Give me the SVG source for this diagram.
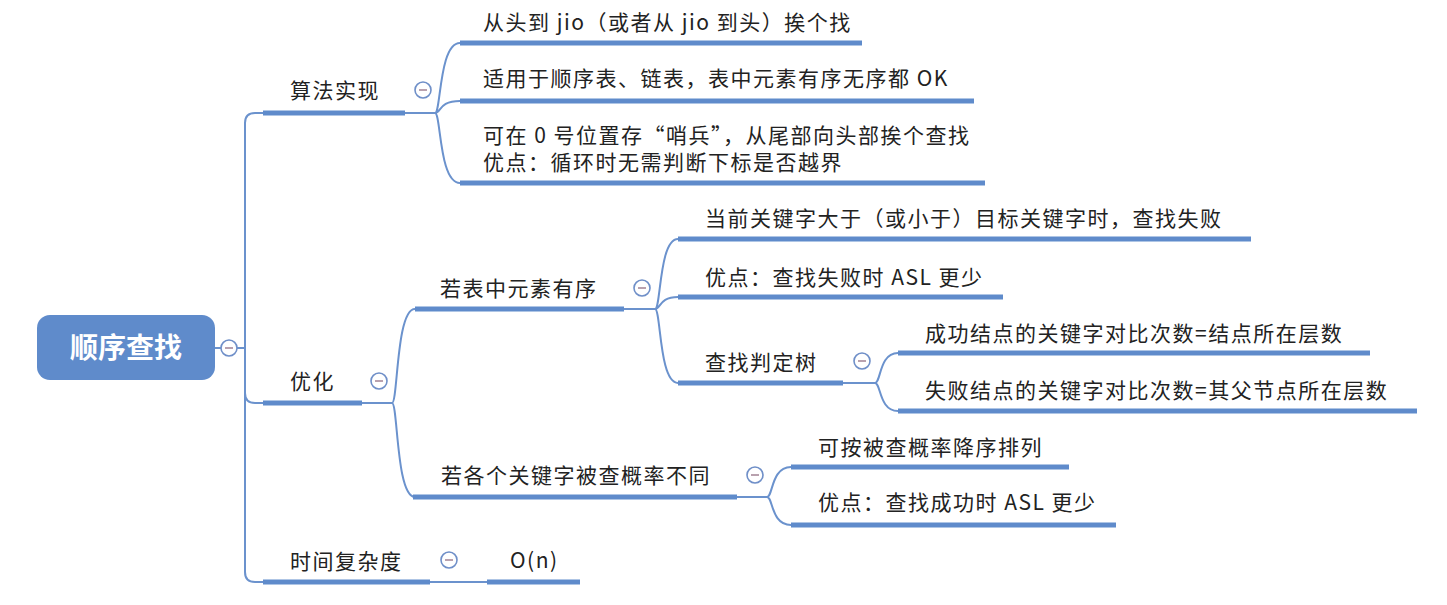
<svg xmlns="http://www.w3.org/2000/svg" width="1447" height="605" viewBox="0 0 1447 605">
<style>
text{font-family:"Noto Sans CJK SC","Noto Sans",sans-serif;font-size:21px;fill:#222;letter-spacing:1.5px}
.root{font-size:28px;font-weight:bold;fill:#fff;letter-spacing:0}
.ul{stroke:#5f8bcb;stroke-width:5;fill:none}
.cn{stroke:#6b92cd;stroke-width:2;fill:none}
.tg circle{fill:#fff;stroke:#6f8fc8;stroke-width:1.6}
.tg line{stroke:#a88a9a;stroke-width:1.6}
</style>
<rect width="1447" height="605" fill="#fff"/>
<g id="connectors">
<path class="cn" d="M215 348 H221 M237 348 H245 M245 348 V123 Q245 113 255 113 H265 M245 348 V572 Q245 582 255 582 H265 M245 393 Q245 403 255 403 H265"/>
<path class="cn" d="M405 113 H435 M435 113 C441 113 439 43 460 43 M435 113 C441 113 439 101 460 101 M435 113 C441 113 439 183 460 183"/>
<path class="cn" d="M362 403 H392 M392 403 C398 403 396 309 415 309 M392 403 C398 403 396 497 415 497"/>
<path class="cn" d="M624 309 H655 M655 309 C661 309 659 239 678 239 M655 309 C661 309 659 297 678 297 M655 309 C661 309 659 383 678 383"/>
<path class="cn" d="M843 383 H875 M875 383 C881 383 879 353 898 353 M875 383 C881 383 879 411 898 411"/>
<path class="cn" d="M737 497 H767 M767 497 C773 497 771 467 791 467 M767 497 C773 497 771 525 791 525"/>
<path class="cn" d="M430 582 H487"/>
</g>
<g id="root">
<rect x="37" y="315" width="178" height="65" rx="13" fill="#5f8bcb"/>
<text class="root" x="126" y="358" text-anchor="middle">顺序查找</text>
<g class="tg"><circle cx="229" cy="348" r="8"/><line x1="225" y1="348" x2="233" y2="348"/></g>
</g>
<g id="n-suanfa">
<path class="ul" d="M263 113 H405"/>
<text x="290" y="98">算法实现</text>
<g class="tg"><circle cx="423" cy="90" r="8"/><line x1="419" y1="90" x2="427" y2="90"/></g>
</g>
<g id="n-a1">
<path class="ul" d="M460 43 H862"/>
<text x="483" y="30">从头到 jio（或者从 jio 到头）挨个找</text>
</g>
<g id="n-a2">
<path class="ul" d="M460 101 H974"/>
<text x="483" y="86">适用于顺序表、链表，表中元素有序无序都 OK</text>
</g>
<g id="n-a3">
<path class="ul" d="M460 183 H985"/>
<text x="483" y="143">可在 0 号位置存“哨兵”，从尾部向头部挨个查找<tspan x="483" y="170">优点：循环时无需判断下标是否越界</tspan></text>
</g>
<g id="n-youhua">
<path class="ul" d="M263 403 H362"/>
<text x="290" y="389">优化</text>
<g class="tg"><circle cx="379" cy="381" r="8"/><line x1="375" y1="381" x2="383" y2="381"/></g>
</g>
<g id="n-youxu">
<path class="ul" d="M415 309 H624"/>
<text x="440" y="296">若表中元素有序</text>
<g class="tg"><circle cx="642" cy="288" r="8"/><line x1="638" y1="288" x2="646" y2="288"/></g>
</g>
<g id="n-b1">
<path class="ul" d="M678 239 H1251"/>
<text x="705" y="226">当前关键字大于（或小于）目标关键字时，查找失败</text>
</g>
<g id="n-b2">
<path class="ul" d="M678 297 H1003"/>
<text x="705" y="285">优点：查找失败时 ASL 更少</text>
</g>
<g id="n-pdtree">
<path class="ul" d="M678 383 H843"/>
<text x="705" y="370">查找判定树</text>
<g class="tg"><circle cx="862" cy="361" r="8"/><line x1="858" y1="361" x2="866" y2="361"/></g>
</g>
<g id="n-c1">
<path class="ul" d="M898 353 H1370"/>
<text x="925" y="341">成功结点的关键字对比次数=结点所在层数</text>
</g>
<g id="n-c2">
<path class="ul" d="M898 411 H1417"/>
<text x="925" y="398">失败结点的关键字对比次数=其父节点所在层数</text>
</g>
<g id="n-gailv">
<path class="ul" d="M413 497 H737"/>
<text x="441" y="483">若各个关键字被查概率不同</text>
<g class="tg"><circle cx="755" cy="475" r="8"/><line x1="751" y1="475" x2="759" y2="475"/></g>
</g>
<g id="n-d1">
<path class="ul" d="M791 467 H1069"/>
<text x="818" y="455">可按被查概率降序排列</text>
</g>
<g id="n-d2">
<path class="ul" d="M791 525 H1116"/>
<text x="818" y="510">优点：查找成功时 ASL 更少</text>
</g>
<g id="n-time">
<path class="ul" d="M263 582 H430"/>
<text x="290" y="569">时间复杂度</text>
<g class="tg"><circle cx="449" cy="560" r="8"/><line x1="445" y1="560" x2="453" y2="560"/></g>
</g>
<g id="n-on">
<path class="ul" d="M487 582 H580"/>
<text x="510" y="568">O(n)</text>
</g>
</svg>
